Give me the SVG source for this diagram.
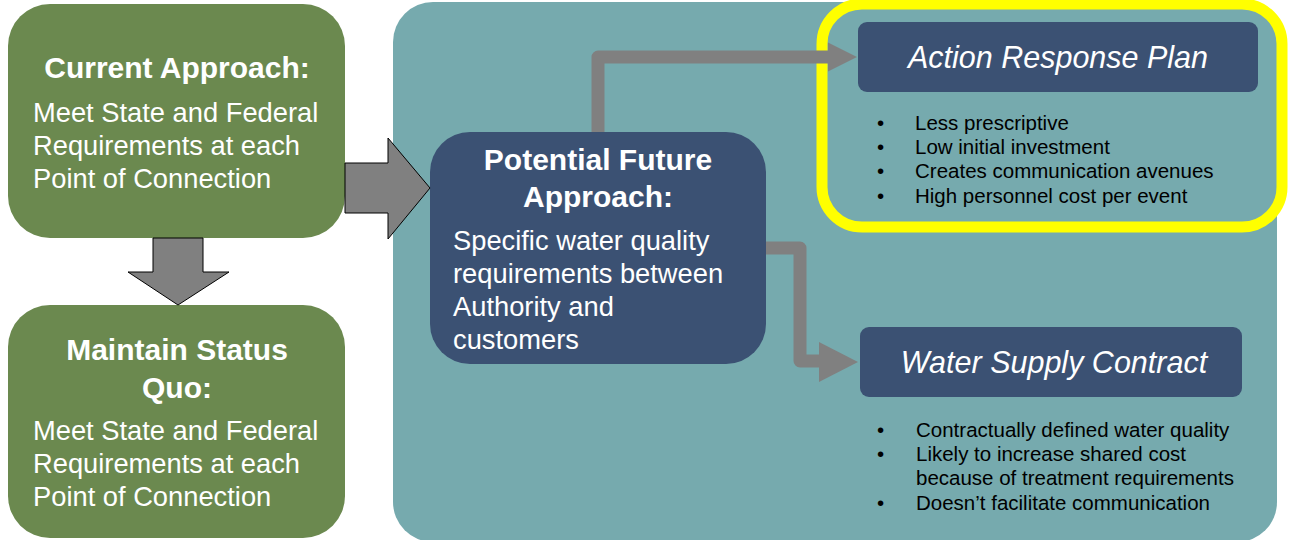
<svg xmlns="http://www.w3.org/2000/svg" width="1291" height="540" viewBox="0 0 1291 540">
<style>
text{font-family:"Liberation Sans",Arial,sans-serif}
.green{fill:#6B894F}
.wt{fill:#fff}
.title{font-weight:bold;font-size:30px;text-anchor:middle}
.body{font-size:27.3px}
.opt{font-size:30.5px;font-style:italic;text-anchor:middle;fill:#fff}
.bl{font-size:20.5px;fill:#000}
.blk{fill:#808080;stroke:#000;stroke-width:1}
.conn{fill:none;stroke:#808080;stroke-width:13;stroke-linejoin:round}
.head{fill:#808080}
</style>
<rect width="1291" height="540" fill="#fff"/>
<g id="panel">
<rect x="393" y="2" width="884" height="540" rx="40" fill="#76AAAE"/>
</g>
<g id="highlight">
<rect x="822" y="4" width="460" height="223" rx="40" fill="none" stroke="#FFFF00" stroke-width="11"/>
</g>
<g id="current">
<rect class="green" x="8" y="4" width="337" height="234" rx="42"/>
<text class="wt title" x="177" y="78">Current Approach:</text>
<text class="wt body" x="33" y="122">Meet State and Federal</text>
<text class="wt body" x="33" y="155">Requirements at each</text>
<text class="wt body" x="33" y="188">Point of Connection</text>
</g>
<g id="status">
<rect class="green" x="8" y="305" width="337" height="233" rx="42"/>
<text class="wt title" x="177" y="360">Maintain Status</text>
<text class="wt title" x="177" y="398">Quo:</text>
<text class="wt body" x="33" y="440">Meet State and Federal</text>
<text class="wt body" x="33" y="473">Requirements at each</text>
<text class="wt body" x="33" y="506">Point of Connection</text>
</g>
<g id="future">
<rect x="430" y="132" width="336" height="232" rx="40" fill="#3B5173"/>
<text class="wt title" x="598" y="170">Potential Future</text>
<text class="wt title" x="598" y="207">Approach:</text>
<text class="wt body" x="453" y="250">Specific water quality</text>
<text class="wt body" x="453" y="283">requirements between</text>
<text class="wt body" x="453" y="316">Authority and</text>
<text class="wt body" x="453" y="349">customers</text>
</g>
<g id="arp">
<rect x="858" y="22" width="400" height="70" rx="9" fill="#3B5173"/>
<text class="opt" x="1058" y="68">Action Response Plan</text>
<text class="bl" x="877" y="130">•</text><text class="bl" x="915" y="130">Less prescriptive</text>
<text class="bl" x="877" y="154">•</text><text class="bl" x="915" y="154">Low initial investment</text>
<text class="bl" x="877" y="178">•</text><text class="bl" x="915" y="178">Creates communication avenues</text>
<text class="bl" x="877" y="203">•</text><text class="bl" x="915" y="203">High personnel cost per event</text>
</g>
<g id="wsc">
<rect x="860" y="327" width="382" height="70" rx="9" fill="#3B5173"/>
<text class="opt" x="1054" y="373">Water Supply Contract</text>
<text class="bl" x="877" y="437">•</text><text class="bl" x="916" y="437">Contractually defined water quality</text>
<text class="bl" x="877" y="461">•</text><text class="bl" x="916" y="461">Likely to increase shared cost</text>
<text class="bl" x="916" y="485">because of treatment requirements</text>
<text class="bl" x="877" y="510">•</text><text class="bl" x="916" y="510">Doesn’t facilitate communication</text>
</g>
<g id="connectors">
<polygon class="blk" points="153,238 203,238 203,272 229,272 178,305 128,272 153,272"/>
<polygon class="blk" points="345,163 388,163 388,138 430,188 388,239 388,213 345,213"/>
<path class="conn" d="M598,132 V57 H830"/>
<polygon class="head" points="828,42.5 857,57 828,71.5"/>
<path class="conn" d="M766,248 H800 V361 H821"/>
<polygon class="head" points="819,342 858,362 819,382"/>
</g>
</svg>
